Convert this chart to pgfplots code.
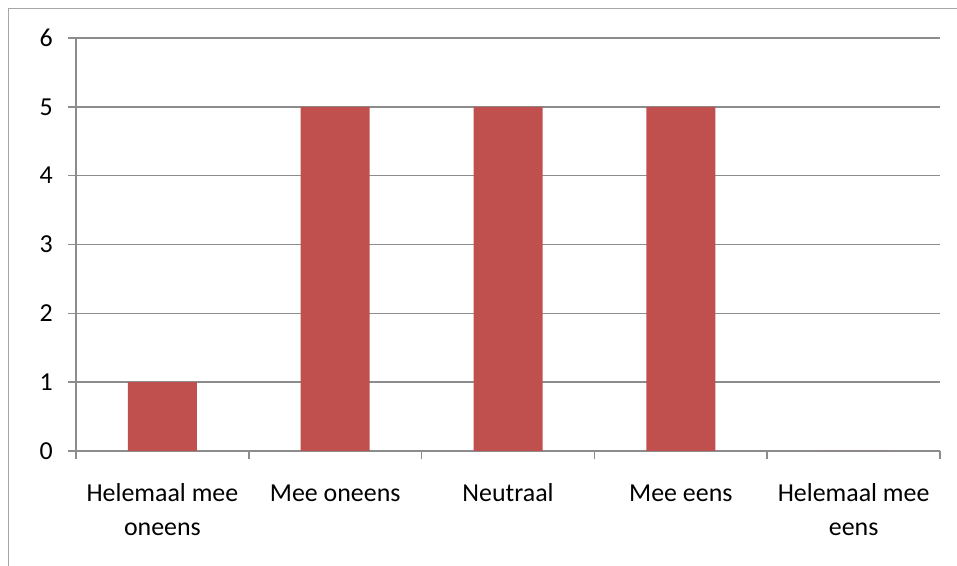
\documentclass[border=0pt]{standalone}
\usepackage{pgfplots}
\pgfplotsset{compat=1.18}
\usepackage{fontspec}
\setmainfont{Carlito}
\definecolor{barred}{HTML}{C0504D}
\definecolor{gridgray}{HTML}{8C8C8C}
\definecolor{framegray}{HTML}{A6A6A6}
\newcommand{\lblfont}{\fontsize{26}{34}\selectfont}
\begin{document}
\begin{tikzpicture}[x=1bp,y=1bp]
\useasboundingbox (0,0) rectangle (957,566);
% chart area frame (left and top edges)
\draw[framegray, line width=1.4bp] (8.5,-10) -- (8.5,557.5) -- (970,557.5);
\begin{axis}[
  at={(76bp,115bp)}, anchor=south west,
  scale only axis, width=864bp, height=413bp,
  xmin=-0.5, xmax=4.5, ymin=0, ymax=6,
  axis x line*=bottom, axis y line*=left,
  axis line style={gridgray, line width=1.6bp},
  ytick={0,1,2,3,4,5,6},
  ymajorgrids, grid style={gridgray, line width=1.6bp},
  xtick={-0.5,0.5,1.5,2.5,3.5,4.5}, xticklabels={},
  extra x ticks={0,1,2,3,4},
  extra x tick labels={{\strut Helemaal mee\\oneens},{\strut Mee oneens},{\strut Neutraal},{\strut Mee eens},{\strut Helemaal mee\\eens}},
  extra x tick style={major tick length=0pt, grid=none,
    xticklabel style={align=center, anchor=north, inner sep=0pt, yshift=-27bp}},
  tick align=outside, major tick length=8bp,
  tick style={gridgray, line width=1.6bp},
  ticklabel style={font=\lblfont},
  yticklabel style={anchor=east, inner sep=0pt, xshift=-15bp},
  /pgf/number format/assume math mode=true,
]
\addplot[ybar, bar width=69bp, fill=barred, draw=none]
  coordinates {(0,1) (1,5) (2,5) (3,5) (4,0)};
\end{axis}
\end{tikzpicture}
\end{document}
